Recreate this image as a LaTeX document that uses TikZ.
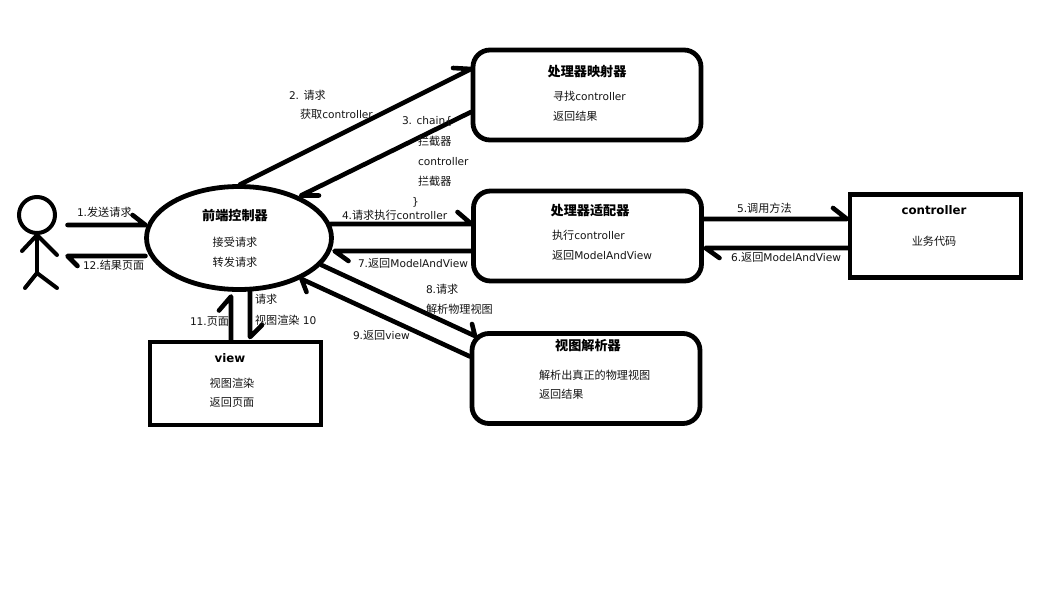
\documentclass[tikz,border=0pt]{standalone}
\usepackage{fontspec}
\setmainfont{DejaVu Sans}
\newfontfamily\cjk[Scale=1.05]{Noto Sans CJK SC}
\usetikzlibrary{shapes.geometric}
\newcommand{\zh}[1]{{\cjk #1}}
\tikzset{
  frame/.style={draw=black,line width=4.8pt,fill=white,inner sep=0pt,outer sep=0pt},
  roundbox/.style={frame,rectangle,rounded corners=17pt,minimum width=228pt,minimum height=90pt},
  sharpbox/.style={frame,rectangle,minimum width=171pt,minimum height=83pt},
  conn/.style={draw=black,line width=4.6pt,line cap=round,line join=round},
  limb/.style={draw=black,line width=4pt,line cap=round,line join=round},
  txt/.style={inner sep=0pt,outer sep=0pt,text=black!92,font=\fontsize{10.6}{12}\selectfont,anchor=west,text height=9pt,text depth=2pt},
  ctxt/.style={txt,anchor=center},
  ttl/.style={inner sep=0pt,outer sep=0pt,text=black,font=\fontsize{12.5}{14}\selectfont\bfseries,anchor=center,text height=10pt,text depth=3pt},
  lttl/.style={ttl,font=\fontsize{11.8}{14}\selectfont\bfseries}
}
\begin{document}
\begin{tikzpicture}[x=1pt,y=-1pt]
\useasboundingbox[fill=white] (0,0) rectangle (1052,610);
% boxes
\node[frame,ellipse,minimum width=185pt,minimum height=103pt] (front) at (239,238) {};
\node[roundbox] (map) at (587,95) {};
\node[roundbox] (adapter) at (587.5,236) {};
\node[roundbox] (resolver) at (586,378.5) {};
\node[sharpbox] (ctrl) at (935.5,236) {};
\node[sharpbox] (view) at (235.5,383.5) {};
% person
\node[draw=black,line width=4pt,circle,minimum size=36pt,inner sep=0pt,outer sep=0pt] (head) at (37,215) {};
\coordinate (hip) at (37,273);
\draw[limb] (head.south) -- (hip);
\draw[limb] ([shift={(-15,18)}]head.south) -- ([shift={(0,2)}]head.south) -- ([shift={(20,22)}]head.south);
\draw[limb] ([shift={(-12,15)}]hip) -- (hip) -- ([shift={(20,15)}]hip);
% connectors
\draw[conn] ([shift={(-79,-13)}]front.west) -- ([shift={(-1,-13)}]front.west) -- ++(-13,-10);
\draw[conn] ([shift={(-1,18)}]front.west) -- ([shift={(-79,18)}]front.west) -- ++(10,10);
\draw[conn] ([shift={(1,-2)}]front.north) -- ([shift={(-2,-26)}]map.west) -- ++(-18,-1);
\draw[conn] ([shift={(-2,17)}]map.west) -- ([shift={(62,9)}]front.north) -- ++(18,0);
\draw[conn] ([shift={(-1,-14)}]front.east) -- ([shift={(-2,-12)}]adapter.west) -- ++(-14,-12);
\draw[conn] ([shift={(0,15)}]adapter.west) -- ([shift={(3,13)}]front.east) -- ++(14,10);
\draw[conn] ([shift={(-10,27)}]front.east) -- ([shift={(3,-42.5)}]resolver.west) -- ++(-3,-12);
\draw[conn] ([shift={(-2,-22)}]resolver.west) -- ([shift={(-30,41)}]front.east) -- ++(5,13);
\draw[conn] ([shift={(2,-17)}]adapter.east) -- ([shift={(-3,-17)}]ctrl.west) -- ++(-14,-11);
\draw[conn] ([shift={(-2,12)}]ctrl.west) -- ([shift={(4,12)}]adapter.east) -- ++(14,10);
\draw[conn] ([shift={(-4.5,-2)}]view.north) -- ([shift={(-8,7)}]front.south) -- ++(-12,14);
\draw[conn] ([shift={(11,0)}]front.south) -- ([shift={(14.5,-5)}]view.north) -- ++(12,-12);
% front text
\node[ttl] (t1) at (235,217) {\zh{前端控制器}};
\node[ctxt] (t2) at (235,243) {\zh{接受请求}};
\node[ctxt] (t3) at (235,263) {\zh{转发请求}};
% mapper
\node[ttl] (t4) at (587,73) {\zh{处理器映射器}};
\node[txt] (t5) at (553,97) {\zh{寻找}controller};
\node[txt] (t6) at (553,117) {\zh{返回结果}};
% adapter
\node[ttl] (t7) at (590,212) {\zh{处理器适配器}};
\node[txt] (t8) at (552,236) {\zh{执行}controller};
\node[txt] (t9) at (552,256) {\zh{返回}ModelAndView};
% resolver
\node[ttl] (t10) at (588,347) {\zh{视图解析器}};
\node[txt] (t11) at (539,376) {\zh{解析出真正的物理视图}};
\node[txt] (t12) at (539,395) {\zh{返回结果}};
% controller
\node[lttl] (t13) at (934,211) {controller};
\node[ctxt] (t14) at (934,242) {\zh{业务代码}};
% view
\node[lttl] (t15) at (230,359) {view};
\node[ctxt] (t16) at (232,384) {\zh{视图渲染}};
\node[ctxt] (t17) at (232,403) {\zh{返回页面}};
% labels
\node[txt] (l1) at (77,213) {1.\zh{发送请求}};
\node[txt] (l12) at (83,266) {12.\zh{结果页面}};
\node[txt] (l2a) at (289,96) {2. \zh{请求}};
\node[txt] (l2b) at (300,115) {\zh{获取}controller};
\node[txt] (l3a) at (402,121) {3. chain\{};
\node[txt] (l3b) at (418,142) {\zh{拦截器}};
\node[txt] (l3c) at (418,162) {controller};
\node[txt] (l3d) at (418,182) {\zh{拦截器}};
\node[txt] (l3e) at (412,202) {\}};
\node[txt] (l4) at (342,216) {4.\zh{请求执行}controller};
\node[txt] (l7) at (358,264) {7.\zh{返回}ModelAndView};
\node[txt] (l8a) at (426,290) {8.\zh{请求}};
\node[txt] (l8b) at (426,310) {\zh{解析物理视图}};
\node[txt] (l9) at (353,336) {9.\zh{返回}view};
\node[txt] (l11) at (190,322) {11.\zh{页面}};
\node[txt] (l10a) at (255,300) {\zh{请求}};
\node[txt] (l10b) at (255,321) {\zh{视图渲染} 10};
\node[txt] (l5) at (737,209) {5.\zh{调用方法}};
\node[txt] (l6) at (731,258) {6.\zh{返回}ModelAndView};
\end{tikzpicture}
\end{document}
